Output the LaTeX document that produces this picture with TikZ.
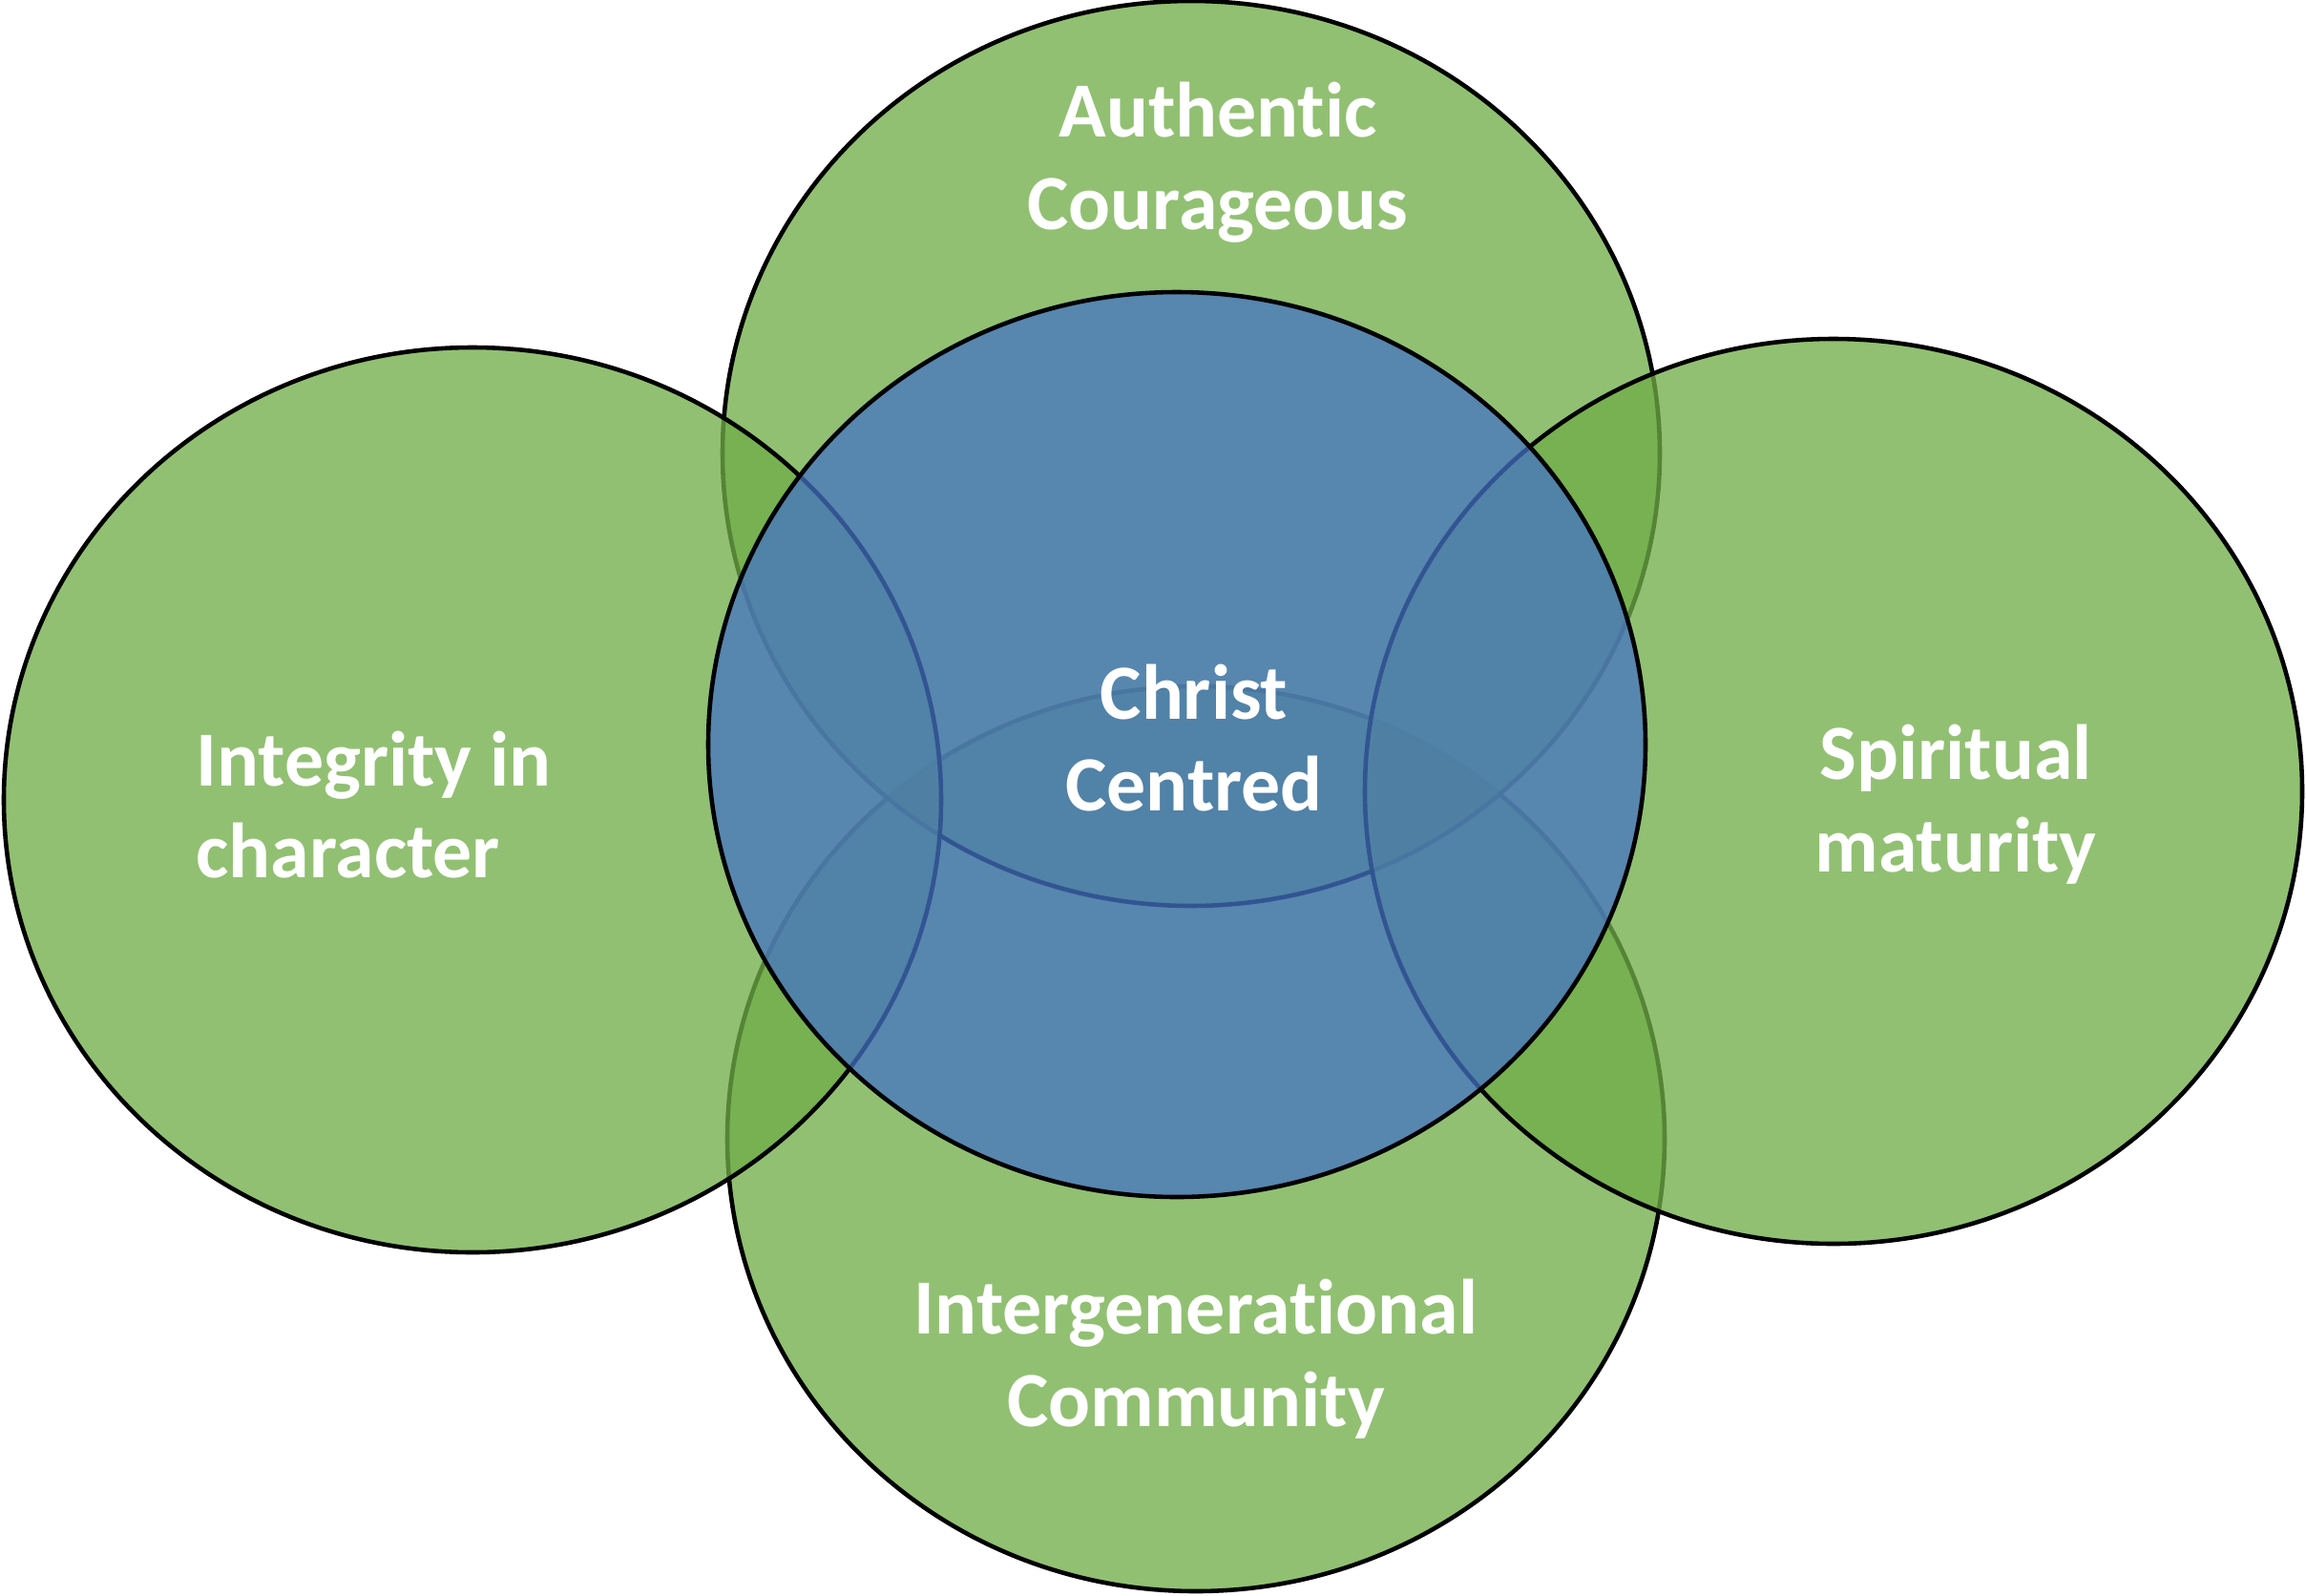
\documentclass[tikz,border=0pt]{standalone}
\usepackage{fontspec}
\setmainfont[Ligatures=NoCommon]{Carlito}
\usetikzlibrary{shapes.geometric}

\definecolor{leafgreen}{HTML}{70AD47}
\definecolor{coreblue}{HTML}{4472C4}

\begin{document}
\begin{tikzpicture}
\tikzset{
  blob/.style={ellipse, draw=black, line width=1.3pt, minimum width=9.82cm, minimum height=9.48cm, inner sep=0pt},
  greenblob/.style={blob, fill=leafgreen, fill opacity=0.77},
  blueblob/.style={blob, fill=coreblue, fill opacity=0.75},
  lbl/.style={text=white, font=\fontsize{23.3}{27.5}\selectfont\bfseries, align=center, inner sep=0pt}
}
\useasboundingbox (0,0) rectangle (24.16,-16.71);
% petals, back to front
\node[greenblob] (bot) at (12.53,-11.93) {};
\node[greenblob] (top) at (12.48,-4.75) {};
\node[greenblob] (lft) at (4.95,-8.38) {};
\node[greenblob] (rgt) at (19.21,-8.29) {};
\node[blueblob] (ctr) at (12.33,-7.80) {};
% labels
\node[lbl] (toptxt) at (12.76,-1.70) {Authentic\\Courageous};
\node[lbl] (ctrtxt) at (12.51,-7.73) {Christ\\Centred};
\node[lbl, align=left, anchor=west] (lfttxt) at (2.05,-8.43) {Integrity in\\character};
\node[lbl] (rgttxt) at (20.49,-8.43) {Spiritual\\maturity};
\node[lbl] (bottxt) at (12.53,-14.24) {Intergenerational\\Community};
\end{tikzpicture}
\end{document}
